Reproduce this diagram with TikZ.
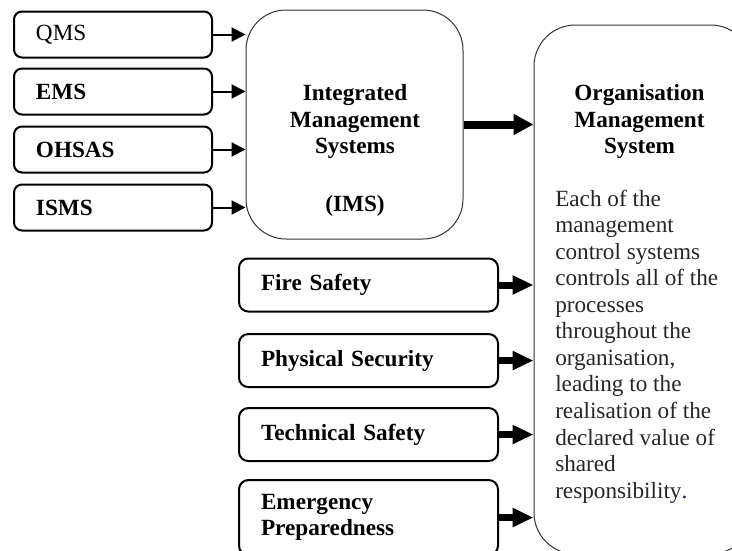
\documentclass[tikz,border=0pt]{standalone}
\usepackage{fontspec}
\setmainfont{Liberation Serif}
\usetikzlibrary{positioning,arrows.meta}
\definecolor{dotblue}{RGB}{20,20,140}
\newcommand{\diagfont}{\fontsize{17.4pt}{19.9pt}\selectfont}

\begin{document}
\begin{tikzpicture}[x=0.75pt,y=-0.75pt,node distance=7.5pt,
    std box/.style={draw,line width=1.5pt,rounded corners=6pt,minimum width=148.5pt,minimum height=34.5pt,text width=115.5pt,inner xsep=16.5pt,align=left,font=\diagfont},
    wide box/.style={draw,line width=1.5pt,rounded corners=7pt,minimum width=194.25pt,minimum height=39.75pt,text width=161.25pt,inner xsep=16.5pt,align=left,font=\diagfont},
    big box/.style={draw=black!80,line width=0.75pt,rounded corners=30pt},
    thin arrow/.style={-{Triangle[length=10.5pt,width=10.5pt]},line width=1.5pt},
    fat arrow/.style={-{Triangle[length=15.75pt,width=13.5pt]},line width=5.25pt},
    big arrow/.style={-{Triangle[length=15pt,width=15pt]},line width=6pt}]
                \useasboundingbox (0,0) rectangle (732,550);
                \clip (0,0) rectangle (732,550);

                \node[std box] (qms) at (113,34.5) {QMS};
                \node[std box] (ems) [below=6.75pt of qms] {\textbf{EMS}};
                \node[std box] (ohsas) [below=of ems] {\textbf{OHSAS}};
                \node[std box] (isms) [below=of ohsas] {\textbf{ISMS}};

                \node[big box,minimum width=162.75pt,minimum height=171.75pt] (ims) at (354.5,124.5) {};
                \node[font=\diagfont\bfseries,align=center] (imstext) at (355,150.5) {Integrated\\Management\\Systems\\[23.6pt](IMS)};

                \node[big box,rounded corners=31pt,minimum width=163.5pt,minimum height=396.75pt] (oms) at (643,289.5) {};
                \node[font=\diagfont\bfseries,align=center] (omstitle) at (639.5,121.5) {Organisation\\Management\\System};
                \node[font=\diagfont,align=left,anchor=west,inner sep=0pt,text=black!85] (omsbody) at (555,346.5) {Each of the\\management\\control systems\\controls all of the\\processes\\throughout the\\organisation,\\leading to the\\realisation of the\\declared value of\\shared\\responsibility{\color{dotblue}.}};

                \node[wide box] (fire) at (368.5,285) {\textbf{Fire Safety}};
                \node[wide box] (phys) [below=15.4pt of fire] {\textbf{Physical Security}};
                \node[wide box] (tech) [below=14.25pt of phys] {\textbf{Technical Safety}};
                \node[wide box,minimum height=56.25pt] (emer) [below=12.75pt of tech] {\textbf{Emergency}\\\textbf{Preparedness}};

                \draw[thin arrow] (qms) -- (qms -| ims.west);
                \draw[thin arrow] (ems) -- (ems -| ims.west);
                \draw[thin arrow] (ohsas) -- (ohsas -| ims.west);
                \draw[thin arrow] (isms) -- (isms -| ims.west);

                \draw[big arrow] (ims) -- (ims -| oms.west);

                \draw[fat arrow] (fire) -- (fire -| oms.west);
                \draw[fat arrow] (phys) -- (phys -| oms.west);
                \draw[fat arrow] (tech) -- (tech -| oms.west);
                \draw[fat arrow] (emer) -- (emer -| oms.west);
            \end{tikzpicture}
\end{document}
